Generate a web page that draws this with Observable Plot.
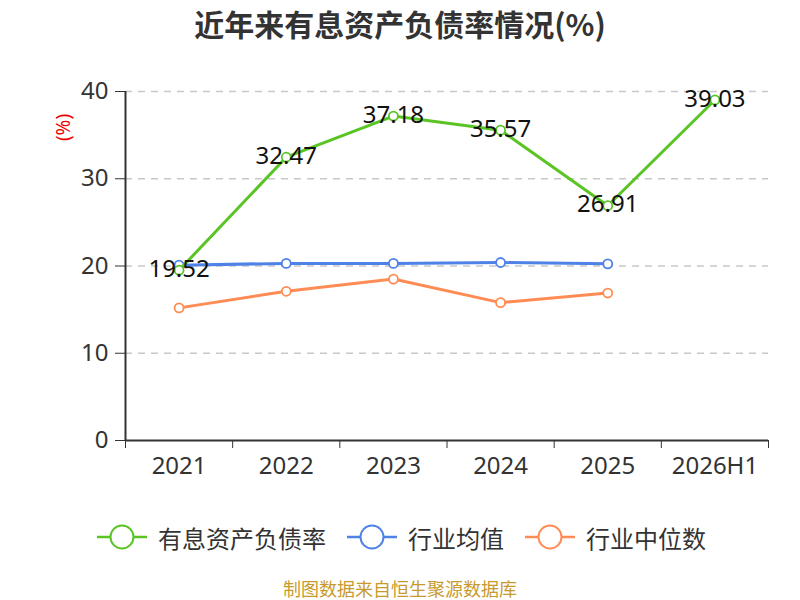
<!DOCTYPE html>
<html><head><meta charset="utf-8">
<script src="https://cdn.jsdelivr.net/npm/d3@7"></script>
<script src="https://cdn.jsdelivr.net/npm/@observablehq/plot@0.6"></script>
<style>
body{margin:0;background:#fff;font-family:"Noto Sans CJK SC","Noto Sans",sans-serif;}
#wrap{width:800px;height:600px;position:relative;}
#title{position:absolute;top:0;left:0;width:800px;height:46px;line-height:46px;text-align:center;font-weight:bold;font-size:30px;color:#333;}
#chart{position:absolute;top:45px;left:0;}
#legend{position:absolute;top:518px;left:0;width:800px;height:38px;}
#caption{position:absolute;top:579px;left:0;width:800px;text-align:center;font-size:18px;line-height:19px;color:#c89a2e;}
</style></head>
<body><div id="wrap">
<div id="title">近年来有息资产负债率情况(%)</div>
<div id="chart"></div>
<div id="legend"></div>
<div id="caption">制图数据来自恒生聚源数据库</div>
</div>
<script>
const years = ["2021","2022","2023","2024","2025","2026H1"];
const debtRatio = [19.52, 32.47, 37.18, 35.57, 26.91, 39.03];
const industryAvg = [20.1, 20.3, 20.3, 20.4, 20.25];
const industryMedian = [15.2, 17.1, 18.5, 15.8, 16.9];
const yTicks = [0, 10, 20, 30, 40];
const seriesNames = ["有息资产负债率", "行业均值", "行业中位数"];
const colors = ["#5bc425", "#4f82e6", "#ff8c55"];

const toRows = (vals) => vals.map((v, i) => ({i, v}));
const sDebt = toRows(debtRatio), sAvg = toRows(industryAvg), sMed = toRows(industryMedian);

const font = "'Noto Sans','Noto Sans CJK SC',sans-serif";
const chart = Plot.plot({
  width: 800, height: 480,
  marginLeft: 125, marginRight: 32, marginTop: 46, marginBottom: 85,
  style: {fontFamily: font, background: "transparent"},
  x: {domain: [-0.5, years.length - 0.5], axis: null},
  y: {domain: [0, 40], axis: null},
  marks: [
    Plot.ruleY(yTicks.filter(d => d > 0), {stroke: "#c8c8c8", strokeDasharray: "7,6", strokeWidth: 1.3, x1: -0.5, x2: years.length - 0.5}),
    Plot.axisY({ticks: yTicks, tickSize: 10, tickPadding: 7, fontSize: 24, color: "#333", tickFormat: d => d, stroke: "#333", label: null}),
    Plot.axisX({ticks: d3.range(years.length + 1).map(d => d - 0.5), tickSize: 8, tickFormat: () => "", stroke: "#333", label: null}),
    Plot.axisX({ticks: d3.range(years.length), tickSize: 0, tickPadding: 16, tickFormat: i => years[i], fontSize: 24, color: "#333", label: null}),
    Plot.ruleX([-0.5], {y1: 0, y2: 40, stroke: "#333", strokeWidth: 2}),
    Plot.ruleY([0], {x1: -0.5, x2: years.length - 0.5, stroke: "#333", strokeWidth: 2}),
    Plot.line(sMed, {x: "i", y: "v", stroke: colors[2], strokeWidth: 3}),
    Plot.dot(sMed, {x: "i", y: "v", r: 4.5, fill: "#fff", stroke: colors[2], strokeWidth: 1.8}),
    Plot.line(sAvg, {x: "i", y: "v", stroke: colors[1], strokeWidth: 3}),
    Plot.dot(sAvg, {x: "i", y: "v", r: 4.5, fill: "#fff", stroke: colors[1], strokeWidth: 1.8}),
    Plot.line(sDebt, {x: "i", y: "v", stroke: colors[0], strokeWidth: 3}),
    Plot.dot(sDebt, {x: "i", y: "v", r: 4.5, fill: "#fff", stroke: colors[0], strokeWidth: 1.8}),
    Plot.text(sDebt, {x: "i", y: "v", text: d => d.v.toFixed(2), fontSize: 24, fill: "#111", dy: -1}),
    Plot.text(["(%)"], {frameAnchor: "top-left", dx: -69, dy: 82 - 46, rotate: -90, text: d => d, fill: "#e00", fontSize: 19, textAnchor: "middle"})
  ]
});
document.getElementById("chart").appendChild(chart);

// legend
const lx = [97, 347, 525];
const lg = d3.select("#legend").append("svg").attr("width", 800).attr("height", 38);
seriesNames.forEach((name, k) => {
  const g = lg.append("g").attr("transform", `translate(${lx[k]},19)`);
  g.append("line").attr("x1", 0).attr("x2", 50).attr("stroke", colors[k]).attr("stroke-width", 2.5);
  g.append("circle").attr("cx", 25).attr("r", 11.5).attr("fill", "#fff").attr("stroke", colors[k]).attr("stroke-width", 2);
  g.append("text").attr("x", 61).attr("dominant-baseline", "central").style("font-size", "24px")
    .attr("fill", "#333").style("font-family", "'Noto Sans CJK SC',sans-serif").text(name);
});
</script>
</body></html>
